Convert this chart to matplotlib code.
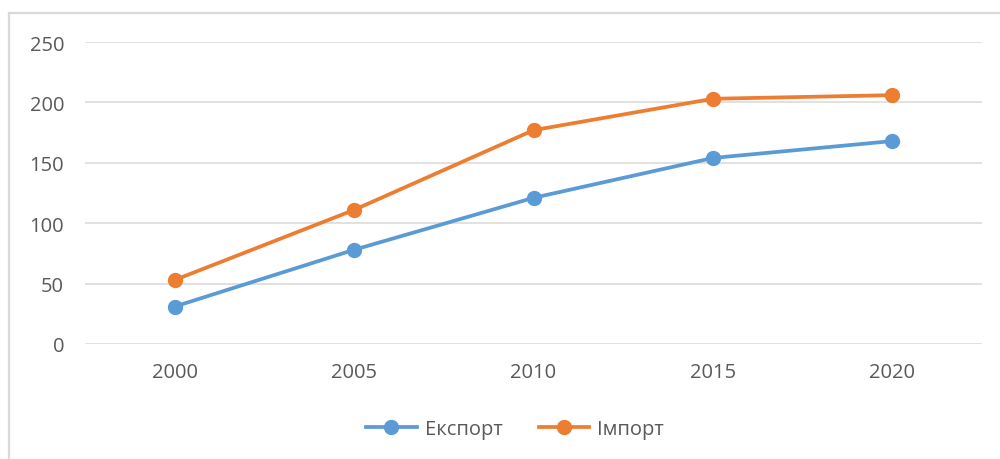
import matplotlib.pyplot as plt
from matplotlib.lines import Line2D

years = ["2000", "2005", "2010", "2015", "2020"]
export_vals = [31, 78, 121, 154, 168]
import_vals = [53, 111, 177, 203, 206]

plt.rcParams['font.family'] = ['Open Sans', 'DejaVu Sans']

fig = plt.figure(figsize=(10, 4.6), dpi=100)
ax = fig.add_axes([0.085, 0.25, 0.897, 0.6565])

x = range(len(years))
ax.plot(x, export_vals, color='#5B9BD5', lw=2.7, marker='o', ms=10, label='Експорт')
ax.plot(x, import_vals, color='#ED7D31', lw=2.7, marker='o', ms=10, label='Імпорт')

ax.set_xlim(-0.5, len(years) - 0.5)
ax.set_ylim(0, 250)
ax.set_yticks(range(0, 251, 50))
ax.set_xticks(list(x))
ax.set_xticklabels(years)
ax.grid(axis='y', color='#D9D9D9', lw=1.1)
ax.set_axisbelow(True)
for s in ax.spines.values():
    s.set_visible(False)
ax.tick_params(axis='both', length=0, labelsize=14.5, labelcolor='#595959')
ax.tick_params(axis='y', pad=15)
ax.tick_params(axis='x', pad=13)

fig.legend(loc='center', bbox_to_anchor=(0.515, 0.065), ncol=2, frameon=False,
           fontsize=14.5, labelcolor='#595959', handlelength=2.5, columnspacing=1.8,
           handletextpad=0.4)

# chart area border (only top and left visible in the crop)
fig.add_artist(Line2D([0.009, 1.0], [0.9696, 0.9696], transform=fig.transFigure,
                      color='#D9D9D9', lw=1.6))
fig.add_artist(Line2D([0.009, 0.009], [0.0, 0.9696], transform=fig.transFigure,
                      color='#D9D9D9', lw=1.6))

fig.savefig('out.png', dpi=100)
